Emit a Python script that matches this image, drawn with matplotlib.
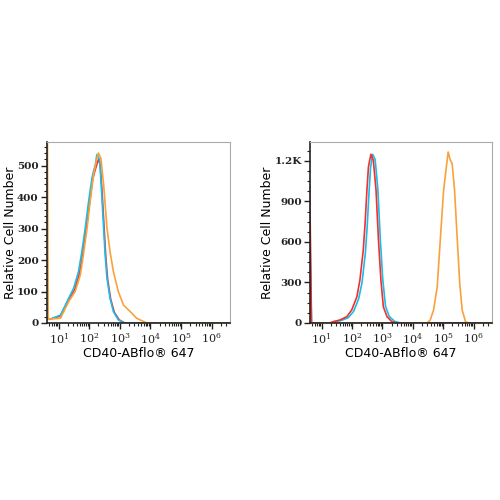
import numpy as np
import matplotlib.pyplot as plt
from matplotlib.ticker import FixedLocator, LogLocator, NullFormatter

plt.rcParams['mathtext.fontset'] = 'dejavuserif'

# histogram curves, x given as log10(intensity), y = cell counts
# left panel
l_cyan_x = [0.66, 0.72, 1.06, 1.33, 1.49, 1.65, 1.76, 1.87, 1.98, 2.09, 2.14, 2.20, 2.25,
            2.34, 2.41, 2.47, 2.52, 2.58, 2.68, 2.79, 2.95, 3.12, 6.7]
l_cyan_y = [12, 12, 25, 79, 110, 163, 227, 302, 386, 461, 482, 503, 535,
            519, 408, 302, 217, 142, 79, 36, 10, 0, 0]
l_red_x = [0.66, 0.72, 1.06, 1.33, 1.52, 1.68, 1.79, 1.90, 2.01, 2.11, 2.17, 2.23, 2.30,
           2.36, 2.43, 2.49, 2.54, 2.60, 2.70, 2.82, 2.98, 3.16, 6.7]
l_red_y = [12, 12, 22, 75, 105, 158, 222, 298, 380, 455, 478, 498, 519,
           505, 400, 296, 212, 140, 76, 34, 10, 0, 0]
l_orange_x = [0.63, 0.66, 1.06, 1.33, 1.54, 1.71, 1.81, 1.93, 2.03, 2.14, 2.23, 2.30, 2.38,
              2.47, 2.58, 2.68, 2.79, 2.95, 3.12, 3.34, 3.55, 3.88, 6.7]
l_orange_y = [700, 12, 15, 68, 100, 153, 217, 302, 386, 471, 514, 540, 524,
              440, 302, 227, 163, 100, 57, 36, 15, 0, 0]

# right panel
r_red_x = [0.61, 0.67, 1.27, 1.38, 1.60, 1.83, 1.99, 2.16, 2.26, 2.37, 2.43, 2.49, 2.54,
           2.62, 2.70, 2.79, 2.87, 2.95, 3.03, 3.15, 3.31, 3.48, 6.7]
r_red_y = [1022, 0, 0, 10, 22, 47, 96, 194, 318, 540, 737, 983, 1155,
           1249, 1205, 983, 613, 318, 120, 47, 10, 0, 0]
r_cyan_x = [0.61, 0.67, 1.30, 1.42, 1.64, 1.88, 2.05, 2.22, 2.33, 2.44, 2.50, 2.56, 2.61,
            2.68, 2.76, 2.85, 2.93, 3.01, 3.10, 3.22, 3.40, 3.60, 6.7]
r_cyan_y = [726, 0, 0, 8, 18, 40, 85, 180, 300, 520, 720, 970, 1150,
            1249, 1210, 990, 620, 325, 125, 50, 12, 0, 0]
r_orange_x = [0.61, 4.47, 4.57, 4.68, 4.80, 4.90, 5.01, 5.10, 5.16, 5.23, 5.29, 5.37,
              5.46, 5.54, 5.62, 5.73, 5.84, 6.7]
r_orange_y = [0, 0, 22, 96, 268, 613, 983, 1155, 1266, 1205, 1180, 983,
              613, 293, 96, 10, 0, 0]

left_yticks = [0, 100, 200, 300, 400, 500]
left_ylabels = ['0', '100', '200', '300', '400', '500']
right_yticks = [0, 300, 600, 900, 1200]
right_ylabels = ['0', '300', '600', '900', '1.2K']
xticks = [1e1, 1e2, 1e3, 1e4, 1e5, 1e6]
xlabels = ['$10^{1}$', '$10^{2}$', '$10^{3}$', '$10^{4}$', '$10^{5}$', '$10^{6}$']

RED = '#f2302e'
CYAN = '#1cbbe8'
ORANGE = '#f9a23c'

fig = plt.figure(figsize=(5, 5), dpi=100)
ax1 = fig.add_axes([0.094, 0.354, 0.366, 0.362])
ax2 = fig.add_axes([0.620, 0.354, 0.364, 0.362])


def style(ax, yticks, ylabels, ymax, minor_step, ylab_x):
    ax.set_xscale('log')
    ax.set_xlim(10 ** 0.62, 10 ** 6.6)
    ax.set_ylim(0, ymax)
    ax.xaxis.set_major_locator(FixedLocator(xticks))
    ax.set_xticklabels(xlabels, fontsize=8)
    ax.xaxis.set_minor_locator(LogLocator(base=10, subs=np.arange(2, 10), numticks=20))
    ax.xaxis.set_minor_formatter(NullFormatter())
    ax.set_yticks(yticks)
    ax.set_yticklabels(ylabels, fontfamily='DejaVu Serif', fontsize=7.5, fontweight='bold')
    ax.yaxis.set_minor_locator(FixedLocator(np.arange(0, ymax, minor_step)))
    ax.tick_params(which='major', length=4, width=1, direction='out', pad=2, colors='#222222')
    ax.tick_params(which='minor', length=2, width=0.8, direction='out', colors='#222222')
    for s in ('top', 'right'):
        ax.spines[s].set_color('#aaaaaa')
    for s in ('left', 'bottom'):
        ax.spines[s].set_color('#222222')
        ax.spines[s].set_linewidth(1.2)
    ax.set_xlabel('CD40-ABflo® 647', fontsize=9, labelpad=1)
    ax.set_ylabel('Relative Cell Number', fontsize=9)
    ax.yaxis.set_label_coords(ylab_x, 0.5)


def draw(ax, xs, ys, color):
    ax.plot(10 ** np.array(xs), ys, color=color, lw=1.2, clip_on=True)


draw(ax1, l_red_x, l_red_y, RED)
draw(ax1, l_cyan_x, l_cyan_y, CYAN)
draw(ax1, l_orange_x, l_orange_y, ORANGE)
style(ax1, left_yticks, left_ylabels, 575, 20, -0.165)

draw(ax2, r_cyan_x, r_cyan_y, CYAN)
draw(ax2, r_red_x, r_red_y, RED)
draw(ax2, r_orange_x, r_orange_y, ORANGE)
style(ax2, right_yticks, right_ylabels, 1340, 75, -0.2)

fig.savefig('out.png', dpi=100)
